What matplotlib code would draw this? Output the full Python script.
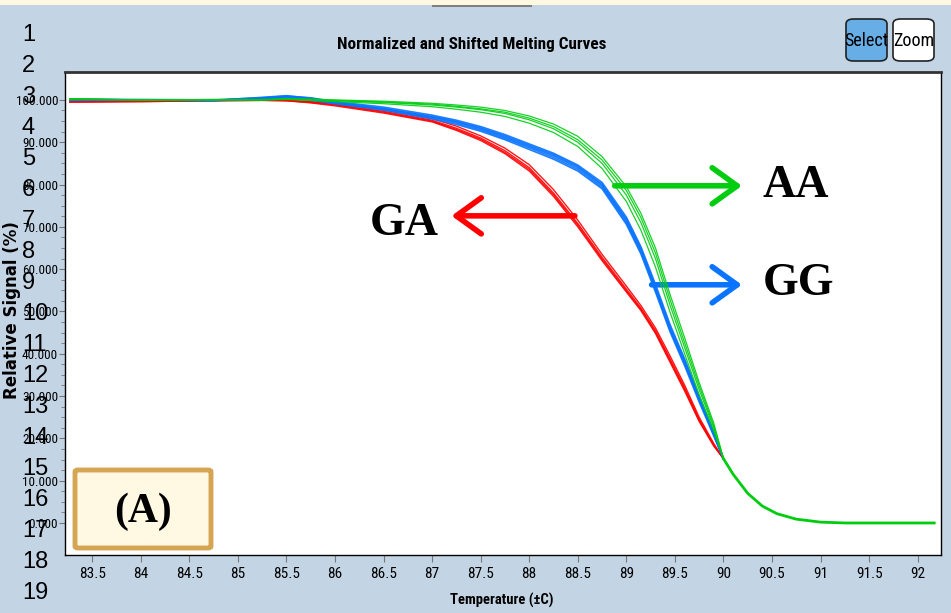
import matplotlib
matplotlib.use("Agg")
import matplotlib.pyplot as plt
from matplotlib.patches import FancyBboxPatch, FancyArrowPatch, Rectangle

# ---------------- data ----------------
TEMP = [83.27, 84.0, 84.75, 85.25, 85.5, 85.75, 86.0, 86.5, 87.0, 87.25, 87.5, 87.75,
        88.0, 88.25, 88.5, 88.75, 89.0, 89.15, 89.3, 89.45, 89.6, 89.75, 89.9, 90.0]

GA_1 = [99.6, 99.7, 99.9, 99.9, 99.9, 99.5, 98.9, 97.3, 95.2, 93.3, 91.0, 88.0, 84.0, 78.0, 70.8, 62.8, 55.3, 50.8, 45.5, 38.8, 32.0, 24.5, 18.5, 15.2]
GA_2 = [99.5, 99.6, 99.8, 99.9, 99.8, 99.3, 98.6, 96.9, 94.8, 92.8, 90.4, 87.3, 83.2, 77.2, 70.0, 62.0, 54.6, 50.2, 44.8, 38.0, 31.2, 24.0, 18.2, 15.2]
GA_3 = [99.6, 99.7, 99.9, 100.0, 99.9, 99.6, 99.1, 97.6, 95.6, 93.8, 91.5, 88.6, 84.7, 78.8, 71.6, 63.5, 56.0, 51.4, 46.1, 39.5, 32.6, 25.0, 18.8, 15.2]
GA_4 = [99.5, 99.6, 99.8, 99.9, 99.8, 99.4, 98.8, 97.1, 95.0, 93.0, 90.7, 87.6, 83.6, 77.6, 70.4, 62.4, 54.9, 50.5, 45.1, 38.4, 31.6, 24.2, 18.3, 15.2]

GG_1 = [100.2, 100.0, 99.9, 100.6, 101.0, 100.4, 99.4, 98.0, 96.0, 94.8, 93.2, 91.2, 89.0, 86.8, 84.0, 79.8, 71.5, 64.5, 55.5, 46.0, 38.0, 29.3, 21.0, 15.2]
GG_2 = [100.0, 100.0, 99.8, 100.3, 100.6, 100.0, 99.1, 97.6, 95.5, 94.2, 92.6, 90.6, 88.3, 86.0, 83.2, 79.0, 70.6, 63.6, 54.6, 45.2, 37.2, 28.6, 20.6, 15.2]
GG_3 = [100.1, 100.1, 100.0, 100.5, 100.9, 100.5, 99.6, 98.3, 96.4, 95.2, 93.7, 91.8, 89.6, 87.4, 84.6, 80.5, 72.3, 65.3, 56.4, 46.9, 38.8, 30.0, 21.5, 15.2]
GG_4 = [99.9, 100.0, 99.9, 100.2, 100.4, 99.9, 99.2, 97.8, 95.8, 94.5, 92.9, 90.9, 88.7, 86.4, 83.6, 79.4, 71.0, 64.0, 55.0, 45.6, 37.6, 29.0, 20.8, 15.2]
GG_5 = [100.0, 100.0, 99.9, 100.4, 100.8, 100.2, 99.3, 97.9, 96.1, 94.9, 93.4, 91.5, 89.3, 87.1, 84.3, 80.1, 71.8, 64.9, 55.9, 46.4, 38.4, 29.6, 21.3, 15.2]

AA_1 = [100.3, 100.0, 100.0, 100.0, 100.2, 100.0, 99.8, 99.4, 98.8, 98.3, 97.7, 96.8, 95.3, 93.2, 90.0, 85.0, 77.5, 71.0, 62.5, 51.5, 41.5, 31.5, 22.5, 15.2]
AA_2 = [100.2, 100.0, 100.1, 100.1, 100.3, 100.2, 100.0, 99.7, 99.2, 98.8, 98.3, 97.5, 96.2, 94.3, 91.4, 86.6, 79.5, 73.2, 65.0, 54.0, 43.8, 33.2, 23.6, 15.2]
AA_3 = [100.1, 100.0, 100.0, 100.0, 100.1, 99.9, 99.6, 99.1, 98.4, 97.8, 97.1, 96.1, 94.5, 92.3, 89.0, 83.8, 76.0, 69.2, 60.5, 49.8, 40.0, 30.3, 21.8, 15.2]
AA_4 = [100.2, 100.0, 100.1, 100.0, 100.2, 100.1, 99.9, 99.5, 99.0, 98.5, 97.9, 97.1, 95.7, 93.7, 90.6, 85.8, 78.6, 72.2, 63.8, 52.8, 42.6, 32.4, 23.0, 15.2]

TAIL_TEMP = [90.0, 90.1, 90.25, 90.4, 90.55, 90.75, 91.0, 91.25, 92.17]
TAIL_VAL = [15.2, 11.5, 7.0, 4.0, 2.2, 0.9, 0.2, 0.0, 0.0]

X_TICKS = [83.5, 84, 84.5, 85, 85.5, 86, 86.5, 87, 87.5, 88, 88.5, 89, 89.5, 90, 90.5, 91, 91.5, 92]
X_TICK_LABELS = ["83.5", "84", "84.5", "85", "85.5", "86", "86.5", "87", "87.5", "88",
                 "88.5", "89", "89.5", "90", "90.5", "91", "91.5", "92"]
Y_TICKS = [0, 10, 20, 30, 40, 50, 60, 70, 80, 90, 100]
Y_TICK_LABELS = ["0.000", "10.000", "20.000", "30.000", "40.000", "50.000",
                 "60.000", "70.000", "80.000", "90.000", "100.000"]
ROW_NUMBERS = [str(i) for i in range(1, 20)]

RED = "#ff0000"
BLUE = "#0a74ff"
GREEN = "#00cc10"
BG = "#c3d5e5"

NARROW = ["Roboto Condensed", "Open Sans Condensed", "Liberation Sans Narrow", "DejaVu Sans"]
ST = "condensed"

W, H = 951, 613
fig = plt.figure(figsize=(W / 100, H / 100), dpi=100, facecolor=BG)

def fx(px):
    return px / W

def fy(py):
    return 1 - py / H

ax = fig.add_axes([fx(65), fy(555), fx(941) - fx(65), fy(72) - fy(555)])
ax.set_facecolor("white")
ax.set_xlim(83.22, 92.24)
ax.set_ylim(-7.57, 106.6)

for c in (GA_1, GA_2, GA_3, GA_4):
    ax.plot(TEMP, c, color=RED, lw=1.0, alpha=0.9)
for c in (GG_1, GG_2, GG_3, GG_4, GG_5):
    ax.plot(TEMP, c, color=BLUE, lw=1.2, alpha=0.9)
for c in (AA_1, AA_2, AA_3, AA_4):
    ax.plot(TEMP, c, color=GREEN, lw=0.9, alpha=0.9)
ax.plot(TAIL_TEMP, TAIL_VAL, color=GREEN, lw=2.0)

ax.set_xticks(X_TICKS)
ax.set_xticklabels(X_TICK_LABELS, family=NARROW, fontstretch=ST, fontsize=11)
ax.set_yticks(Y_TICKS)
ax.set_yticklabels(Y_TICK_LABELS, family=NARROW, fontstretch=ST, fontsize=9.5)
ax.set_yticks([v + d for v in Y_TICKS[:-1] for d in (2.5, 5, 7.5)], minor=True)
ax.tick_params(axis="x", length=5, color="#777777", pad=4)
ax.tick_params(axis="y", which="major", length=4, color="#777777", pad=1)
ax.tick_params(axis="y", which="minor", length=3, color="#777777")
for s in ax.spines.values():
    s.set_color("black")
    s.set_linewidth(1.0)
ax.spines["top"].set_linewidth(2.0)
ax.spines["top"].set_color("#333333")

# annotations
def arrow(x0, x1, y, color):
    ax.add_patch(FancyArrowPatch((x0, y), (x1, y), arrowstyle="->,head_length=0.9,head_width=0.65",
                                 mutation_scale=20, color=color, lw=4.0, shrinkA=0, shrinkB=0,
                                 capstyle="round", joinstyle="round"))

arrow(88.88, 90.19, 79.7, GREEN)
arrow(89.26, 90.19, 56.3, BLUE)
arrow(88.47, 87.20, 72.6, RED)
serif = ["Liberation Serif", "DejaVu Serif"]
ax.text(90.74, 79.6, "AA", family=serif, weight="bold", fontsize=33, ha="center", va="center")
ax.text(90.77, 56.4, "GG", family=serif, weight="bold", fontsize=33, ha="center", va="center")
ax.text(86.71, 70.6, "GA", family=serif, weight="bold", fontsize=33, ha="center", va="center")

# (A) box
fig.patches.append(FancyBboxPatch((fx(75), fy(548)), fx(211) - fx(75), fy(470) - fy(548),
                                  boxstyle="round,pad=0,rounding_size=0.003",
                                  transform=fig.transFigure, facecolor="#fff8e3",
                                  edgecolor="#d5a553", lw=3.5, zorder=5))
fig.text(fx(143), fy(512), "(A)", family=serif, weight="bold", fontsize=30,
         ha="center", va="center", zorder=6)

# title and labels
fig.text(fx(472), fy(45), "Normalized and Shifted Melting Curves", family=NARROW,
         fontstretch=ST, weight="bold", fontsize=12.3, ha="center", va="center")
fig.text(fx(502), fy(600), "Temperature (\u00b1C)", family=NARROW, fontstretch=ST,
         weight="bold", fontsize=10.5, ha="center", va="center")
fig.text(fx(12), fy(310), "Relative Signal (%)", family="DejaVu Sans", weight="bold",
         fontsize=12, rotation=90, ha="center", va="center")

# row numbers overlay
for i, s in enumerate(ROW_NUMBERS):
    fig.text(fx(22), fy(35 + i * 31.0), s, family=["Liberation Sans", "DejaVu Sans"],
             fontsize=17, ha="left", va="center", zorder=10)

# top strip
fig.patches.append(Rectangle((0, fy(5)), 1, fy(0) - fy(5), transform=fig.transFigure,
                             facecolor="#fff8e1", edgecolor="none"))
fig.patches.append(Rectangle((fx(432), fy(7)), fx(532) - fx(432), fy(5) - fy(7),
                             transform=fig.transFigure, facecolor="#808080", edgecolor="none"))

# buttons
fig.patches.append(FancyBboxPatch((fx(846), fy(61)), fx(887) - fx(846), fy(19) - fy(61),
                                  boxstyle="round,pad=0,rounding_size=0.008",
                                  transform=fig.transFigure, facecolor="#68aee6",
                                  edgecolor="#222222", lw=1.2))
fig.patches.append(FancyBboxPatch((fx(893), fy(61)), fx(934) - fx(893), fy(19) - fy(61),
                                  boxstyle="round,pad=0,rounding_size=0.008",
                                  transform=fig.transFigure, facecolor="white",
                                  edgecolor="#222222", lw=1.2))
fig.text(fx(866.5), fy(41), "Select", family=NARROW, fontstretch=ST, fontsize=13,
         ha="center", va="center")
fig.text(fx(913.5), fy(41), "Zoom", family=NARROW, fontstretch=ST, fontsize=13,
         ha="center", va="center")

fig.savefig("out.png", dpi=100, facecolor=BG)
